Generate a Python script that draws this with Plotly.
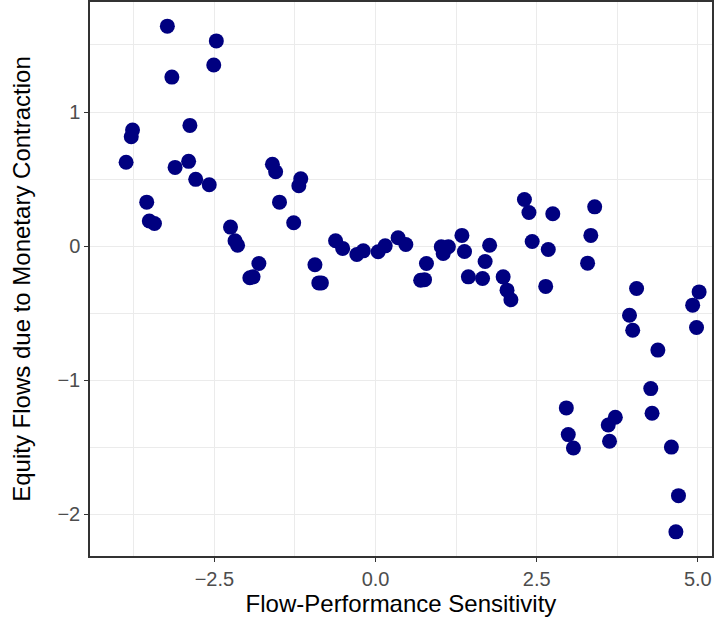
import plotly.graph_objects as go

# Data (Flow-Performance Sensitivity vs Equity Flows)
x_vals = [
    -3.23, -2.47, -2.51, -3.16, -3.77, -3.79, -2.88, -3.87, -2.90, -3.11,
    -2.79, -2.58, -3.55, -3.51, -3.43, -1.60, -1.55, -1.16, -1.19, -1.49,
    -1.27, -2.25, -2.18, -2.14, -1.81, -1.90, -1.95, -0.94, -0.88, -0.84,
    -0.62, -0.51, -0.29, -0.19, 0.04, 0.15, 0.35, 0.47, 0.79, 0.70,
    0.76, 1.02, 1.05, 1.13, 1.34, 1.38, 1.77, 1.70, 1.44, 1.66,
    1.98, 2.04, 2.10, 2.31, 2.38, 2.75, 3.40, 2.43, 2.68, 3.34,
    3.29, 2.64, 4.05, 3.94, 3.99, 5.02, 4.92, 4.98, 4.38, 4.27,
    4.29, 2.96, 2.99, 3.07, 3.72, 3.61, 3.63, 4.59, 4.70, 4.66,
]
y_vals = [
    1.64, 1.53, 1.35, 1.26, 0.866, 0.816, 0.90, 0.625, 0.632, 0.587,
    0.498, 0.458, 0.328, 0.187, 0.169, 0.61, 0.555, 0.502, 0.45, 0.328,
    0.174, 0.142, 0.04, 0.007, -0.129, -0.229, -0.236, -0.139, -0.274, -0.274,
    0.04, -0.017, -0.062, -0.035, -0.042, 0.002, 0.062, 0.012, -0.13, -0.254,
    -0.25, -0.005, -0.055, -0.005, 0.08, -0.04, 0.007, -0.114, -0.229, -0.241,
    -0.229, -0.328, -0.40, 0.348, 0.251, 0.241, 0.293, 0.035, -0.025, 0.08,
    -0.127, -0.30, -0.316, -0.515, -0.627, -0.341, -0.44, -0.607, -0.775, -1.062,
    -1.246, -1.206, -1.405, -1.505, -1.276, -1.333, -1.455, -1.498, -1.86, -2.13,
]

x_major = [-2.5, 0.0, 2.5, 5.0]
x_minor = [-3.75, -1.25, 1.25, 3.75]
y_major = [-2, -1, 0, 1]
y_minor = [-1.5, -0.5, 0.5, 1.5]

FONT = "Liberation Sans, Arial, Helvetica, sans-serif"

fig = go.Figure()
fig.add_trace(go.Scatter(
    x=x_vals, y=y_vals, mode="markers",
    marker=dict(color="#000080", size=15, line=dict(width=0)),
    showlegend=False,
))

axis_common = dict(
    showline=True, mirror=True, linecolor="#333333", linewidth=1.5,
    showgrid=True, gridcolor="#EBEBEB", gridwidth=1.4,
    zeroline=False,
    ticks="outside", ticklen=4, tickwidth=1.1, tickcolor="#333333",
    tickfont=dict(family=FONT, size=20, color="#4D4D4D"),
)

fig.update_xaxes(
    range=[-4.43, 5.22], tickvals=x_major, tickformat=".1f",
    minor=dict(tickvals=x_minor, showgrid=True, gridcolor="#EBEBEB", gridwidth=0.7, ticks=""),
    title=dict(text="Flow-Performance Sensitivity", standoff=6,
               font=dict(family=FONT, size=24, color="#000000")),
    **axis_common,
)
fig.update_yaxes(
    range=[-2.31, 1.82], tickvals=y_major, tickformat="d",
    minor=dict(tickvals=y_minor, showgrid=True, gridcolor="#EBEBEB", gridwidth=0.7, ticks=""),
    title=dict(text="Equity Flows due to Monetary Contraction", standoff=20,
               font=dict(family=FONT, size=24, color="#000000")),
    **axis_common,
)

fig.update_layout(
    width=727, height=623,
    margin=dict(l=90, r=15, t=2, b=67, autoexpand=False),
    plot_bgcolor="white", paper_bgcolor="white",
)

fig.write_html("out.html", config={"displayModeBar": False},
               post_script="document.body.style.margin='0';")
